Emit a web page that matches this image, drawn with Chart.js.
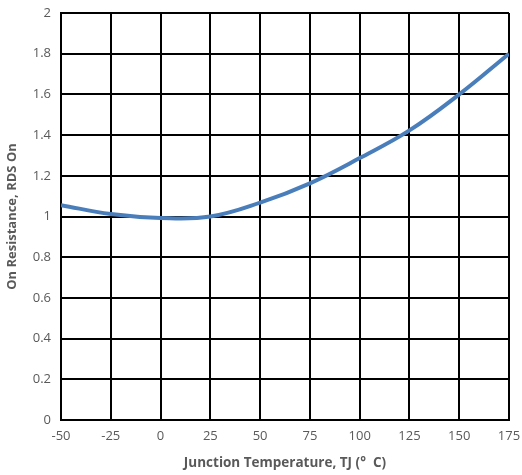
<!DOCTYPE html>
<html>
<head>
<meta charset="utf-8">
<script src="https://cdn.jsdelivr.net/npm/chart.js@4/dist/chart.umd.min.js"></script>
<style>
  html, body { margin: 0; padding: 0; background: #ffffff; }
  #wrap { width: 522px; height: 475px; position: relative; }
</style>
</head>
<body>
<div id="wrap"><canvas id="c" width="522" height="475"></canvas></div>
<script>
// Junction temperature (°C) and normalised on-resistance
const temperatures = [-50, -25, 0, 25, 50, 75, 100, 125, 150, 175];
const rdsOn = [1.056, 1.012, 0.993, 1.0, 1.068, 1.163, 1.287, 1.423, 1.60, 1.80];
const xTicks = [-50, -25, 0, 25, 50, 75, 100, 125, 150, 175];
const yTicks = [0, 0.2, 0.4, 0.6, 0.8, 1, 1.2, 1.4, 1.6, 1.8, 2];

const points = temperatures.map((t, i) => ({ x: t, y: rdsOn[i] }));
const family = "'Open Sans', 'Liberation Sans', sans-serif";
const labelFont = { family, size: 13 };

new Chart(document.getElementById('c'), {
  type: 'line',
  data: {
    datasets: [{
      data: points,
      borderColor: '#4a7ebb',
      borderWidth: 4,
      pointRadius: 0,
      fill: false,
      tension: 0.4
    }]
  },
  options: {
    responsive: false,
    animation: false,
    layout: { padding: { top: 13, right: 13, left: 0, bottom: 0 } },
    plugins: { legend: { display: false }, tooltip: { enabled: false } },
    scales: {
      x: {
        type: 'linear',
        min: -50, max: 175,
        afterBuildTicks: s => { s.ticks = xTicks.map(v => ({ value: v })); },
        afterFit: s => { s.height = 55; s.paddingLeft = 0; s.paddingRight = 0; },
        grid: { color: '#000000', lineWidth: 2, drawTicks: false },
        border: { color: '#000000', width: 2 },
        ticks: { color: '#595959', font: labelFont, padding: 8, maxRotation: 0, callback: v => String(v) },
        title: {
          display: true,
          text: 'Junction Temperature, TJ (°  C)',
          color: '#595959',
          font: { family, size: 13.5, weight: 'bold' },
          padding: { top: 2 }
        }
      },
      y: {
        min: 0, max: 2,
        afterBuildTicks: s => { s.ticks = yTicks.map(v => ({ value: v })); },
        afterFit: s => { s.width = 61; s.paddingTop = 0; s.paddingBottom = 0; },
        grid: { color: '#000000', lineWidth: 2, drawTicks: false },
        border: { color: '#000000', width: 2 },
        ticks: { color: '#595959', font: labelFont, padding: 10, callback: v => String(Math.round(v * 10) / 10) },
        title: {
          display: true,
          text: 'On Resistance, RDS On',
          color: '#595959',
          font: { family, size: 13, weight: 'bold' },
          padding: { bottom: 0 }
        }
      }
    }
  }
});
</script>
</body>
</html>
